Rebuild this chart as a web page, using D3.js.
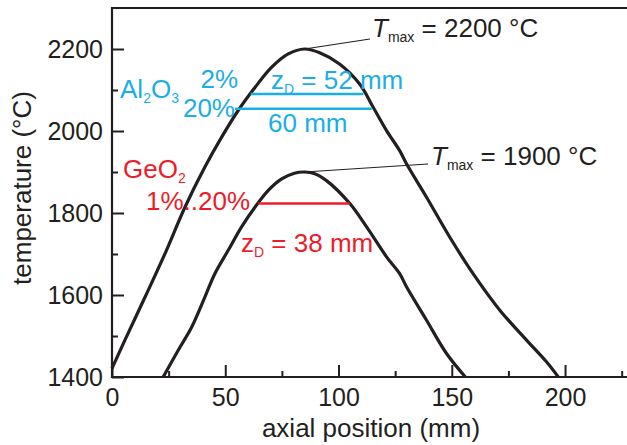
<!DOCTYPE html>
<html>
<head>
<meta charset="utf-8">
<script src="https://cdn.jsdelivr.net/npm/d3@7"></script>
<style>
  body { margin: 0; background: #fff; }
  text { font-family: "Liberation Sans", Arial, sans-serif; }
</style>
</head>
<body>
<svg id="chart" width="627" height="445"></svg>
<script>
// outer profile, Tmax = 2200 °C  (axial position mm, temperature °C)
var hotX = [0, 5.7, 14.6, 23.4, 32.2, 41, 48.4, 55.7, 63.1, 70.4, 77.8, 85, 91.7, 100.6, 109.4, 115.3, 121.2, 127, 130, 138.8, 149, 159.4, 171.2, 183, 191.8, 197];
var hotT = [1421, 1490, 1595, 1701, 1814, 1912, 1985, 2050, 2106, 2155, 2188, 2200, 2191, 2163, 2114, 2058, 2001, 1952, 1920, 1839, 1742, 1652, 1563, 1490, 1437, 1400];

// inner profile, Tmax = 1900 °C
var coolX = [22.6, 29.3, 35.2, 41, 45.4, 51.3, 57.2, 63.1, 69, 74.9, 80.5, 85, 89.5, 94.7, 105, 112.4, 121.2, 127, 130, 138.8, 147.6, 156];
var coolT = [1400, 1466, 1522, 1595, 1652, 1709, 1766, 1814, 1855, 1883, 1897, 1900, 1896, 1879, 1823, 1766, 1693, 1652, 1620, 1539, 1458, 1400];

// deposition zones (x start, x end, temperature)
var al2o3Zones = [[61.2, 111, 2090], [54.3, 114.6, 2054]];
var geo2Zones = [[64.6, 105, 1823]];

var xTicks = [0, 50, 100, 150, 200];
var xMinor = [25, 75, 125, 175, 225];
var yTicks = [1400, 1600, 1800, 2000, 2200];
var yMinor = [1500, 1700, 1900, 2100];

var blue = "#1aaee6", red = "#ec1c2a", ink = "#231f20";

var svg = d3.select("#chart");
var x = d3.scaleLinear().domain([0, 230]).range([112, 633]);
var y = d3.scaleLinear().domain([1400, 2300]).range([377, 8]);

// frame (top + left + bottom, right side runs off the page)
svg.append("path")
    .attr("d", "M" + 633 + "," + y(2300) + "H" + x(0) + "V" + y(1400) + "H" + 633)
    .attr("fill", "none").attr("stroke", ink).attr("stroke-width", 2.2);

// ticks point inward
svg.append("g")
    .attr("transform", "translate(0," + y(1400) + ")")
    .call(d3.axisBottom(x).tickValues(xTicks).tickSize(-12).tickPadding(11).tickFormat(d3.format("d")));
svg.append("g")
    .attr("transform", "translate(0," + y(1400) + ")")
    .call(d3.axisBottom(x).tickValues(xMinor).tickSize(-6).tickFormat(""));
svg.append("g")
    .attr("transform", "translate(" + x(0) + ",0)")
    .call(d3.axisLeft(y).tickValues(yTicks).tickSize(-12).tickPadding(9).tickFormat(d3.format("d")));
svg.append("g")
    .attr("transform", "translate(" + x(0) + ",0)")
    .call(d3.axisLeft(y).tickValues(yMinor).tickSize(-6).tickFormat(""));

svg.selectAll(".domain").remove();
svg.selectAll(".tick line").attr("stroke", ink).attr("stroke-width", 2);
svg.selectAll(".tick text").attr("fill", ink).style("font-size", "25px")
    .style("font-family", "'Liberation Sans', Arial, sans-serif");

// axis titles
svg.append("text").attr("x", 371).attr("y", 437).attr("text-anchor", "middle")
    .style("font-size", "26px").attr("fill", ink).text("axial position (mm)");
svg.append("text").attr("transform", "translate(31,188) rotate(-90)").attr("text-anchor", "middle")
    .style("font-size", "26px").attr("fill", ink).text("temperature (°C)");

// profiles
var line = d3.line()
    .x(function (d) { return x(d[0]); })
    .y(function (d) { return y(d[1]); })
    .curve(d3.curveCatmullRom);

svg.append("path").datum(d3.zip(hotX, hotT))
    .attr("d", line).attr("fill", "none").attr("stroke", ink).attr("stroke-width", 3.2);
svg.append("path").datum(d3.zip(coolX, coolT))
    .attr("d", line).attr("fill", "none").attr("stroke", ink).attr("stroke-width", 3.2);

// zone lines
svg.selectAll(".al").data(al2o3Zones).enter().append("line")
    .attr("x1", function (d) { return x(d[0]); }).attr("x2", function (d) { return x(d[1]); })
    .attr("y1", function (d) { return y(d[2]); }).attr("y2", function (d) { return y(d[2]); })
    .attr("stroke", blue).attr("stroke-width", 2.5);
svg.selectAll(".ge").data(geo2Zones).enter().append("line")
    .attr("x1", function (d) { return x(d[0]); }).attr("x2", function (d) { return x(d[1]); })
    .attr("y1", function (d) { return y(d[2]); }).attr("y2", function (d) { return y(d[2]); })
    .attr("stroke", red).attr("stroke-width", 2.5);

// leader lines to peaks
svg.append("line").attr("x1", x(85)).attr("y1", y(2200)).attr("x2", 370).attr("y2", 39)
    .attr("stroke", ink).attr("stroke-width", 1.2);
svg.append("line").attr("x1", x(85)).attr("y1", y(1900)).attr("x2", 428).attr("y2", 164)
    .attr("stroke", ink).attr("stroke-width", 1.2);

// text with subscripts
function label(px, py, parts, color, anchor) {
    var t = svg.append("text").attr("x", px).attr("y", py).attr("fill", color)
        .attr("text-anchor", anchor || "start").style("font-size", "26px");
    parts.forEach(function (p) {
        var s = t.append("tspan").text(p.t);
        if (p.sub) s.style("font-size", "14px").attr("dy", 5);
        if (p.up) s.attr("dy", -5);
        if (p.it) s.style("font-style", "italic");
    });
    return t;
}

label(372, 37, [{ t: "T", it: true }, { t: "max", sub: true }, { t: " = 2200 °C", up: true }], ink);
label(431, 165, [{ t: "T", it: true }, { t: "max", sub: true }, { t: " = 1900 °C", up: true }], ink);

label(120, 98, [{ t: "Al" }, { t: "2", sub: true }, { t: "O", up: true }, { t: "3", sub: true }], blue);
label(238, 88, [{ t: "2%" }], blue, "end");
label(235, 117, [{ t: "20%" }], blue, "end");
label(271, 89, [{ t: "z" }, { t: "D", sub: true }, { t: " = 52 mm", up: true }], blue);
label(268, 132, [{ t: "60 mm" }], blue);

label(123, 178, [{ t: "GeO" }, { t: "2", sub: true }], red);
label(146, 210, [{ t: "1%..20%" }], red);
label(241, 252, [{ t: "z" }, { t: "D", sub: true }, { t: " = 38 mm", up: true }], red);
</script>
</body>
</html>
